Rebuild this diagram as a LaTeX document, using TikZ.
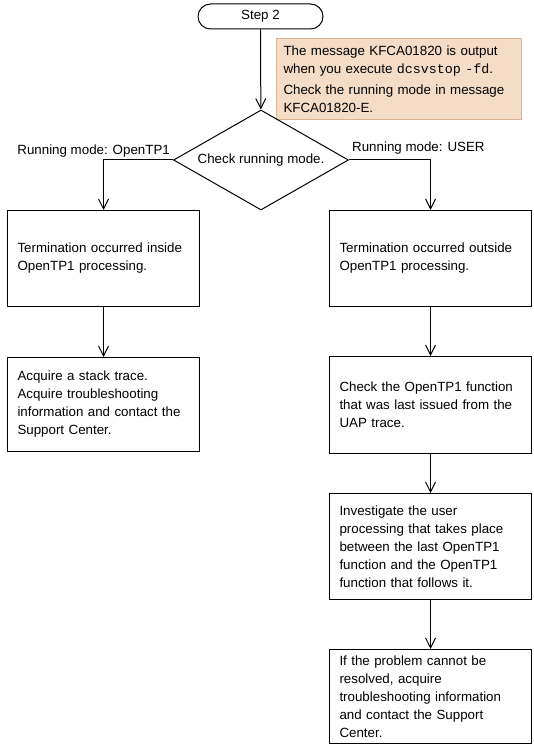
\documentclass[tikz,border=0pt]{standalone}
\usepackage{fontspec}
\setmainfont{Liberation Sans}
\setmonofont{Liberation Mono}
\usetikzlibrary{arrows.meta, positioning, shapes.geometric}

\definecolor{notefill}{HTML}{F5DCC7}
\definecolor{noteline}{HTML}{DDB595}

\begin{document}
\begin{tikzpicture}[x=0.75pt, y=-0.75pt, line width=0.75pt,
    >={Straight Barb[length=7.5pt, width=7.5pt]},
    font=\fontsize{10}{13.5}\selectfont,
    leftbox/.style={draw, rectangle, anchor=north west, align=left, inner xsep=7.5pt,
        text width=129pt, minimum width=144pt},
    rightbox/.style={draw, rectangle, anchor=north west, align=left, inner xsep=7.5pt,
        text width=136.5pt, minimum width=151.5pt}]
    % --- FRAME ---
    \useasboundingbox (0,0) rectangle (534,748);

    % --- START AND DECISION ---
    \node[draw, rounded corners=9.4pt, minimum width=93.75pt, minimum height=18.75pt, inner sep=0pt]
        (step) at (260.5,16.5) {Step 2};
    \node[draw=noteline, fill=notefill, anchor=north west, align=left, inner xsep=5.25pt,
        text width=173.25pt, minimum width=183.75pt, minimum height=60.75pt]
        (note) at (276,38) {The message KFCA01820 is output\\
        when you execute \texttt{dcsvstop -fd}.\\[2pt]
        Check the running mode in message\\
        KFCA01820-E.};
    \node[draw, diamond, aspect=1.75, inner sep=0pt, minimum width=131.25pt, minimum height=75pt]
        (check) at (261,160) {Check running mode.};

    % --- LEFT BRANCH: OpenTP1 ---
    \node[leftbox, minimum height=72pt] (inside) at (7,210)
        {Termination occurred inside\\ OpenTP1 processing.};
    \node[leftbox, minimum height=70.5pt] (stack) at (7,357)
        {Acquire a stack trace.\\ Acquire troubleshooting\\ information and contact the\\ Support Center.};

    % --- RIGHT BRANCH: USER ---
    \node[rightbox, minimum height=72pt] (outside) at (329,210)
        {Termination occurred outside\\ OpenTP1 processing.};
    \node[rightbox, minimum height=72.75pt] (lastfunc) at (329,356)
        {Check the OpenTP1 function\\ that was last issued from the\\ UAP trace.};
    \node[rightbox, minimum height=79.5pt] (userproc) at (329,493)
        {Investigate the user\\ processing that takes place\\ between the last OpenTP1\\
        function and the OpenTP1\\ function that follows it.};
    \node[rightbox, minimum height=70.5pt] (resolve) at (329,649)
        {If the problem cannot be\\ resolved, acquire\\ troubleshooting information\\
        and contact the Support\\ Center.};

    % --- CONNECTORS ---
    \draw[->] (step) -- (check);
    \draw[->] (check.west) -| (inside.north);
    \draw[->] (check.east) -| (outside.north);
    \draw[->] (inside) -- (stack);
    \draw[->] (outside) -- (lastfunc);
    \draw[->] (lastfunc) -- (userproc);
    \draw[->] (userproc) -- (resolve);

    % --- LABELS ---
    \node[above left, inner sep=2pt] (modetp) at (check.west) {Running mode: OpenTP1};
    \node[above right, inner sep=2pt, yshift=2pt] (modeuser) at (check.east) {Running mode: USER};

\end{tikzpicture}
\end{document}
